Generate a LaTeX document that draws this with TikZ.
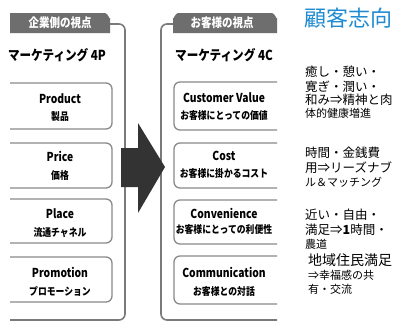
\documentclass[tikz,border=0pt]{standalone}
\usepackage{fontspec}
\setmainfont{Noto Sans CJK JP}
\newfontfamily\jp{Noto Sans CJK JP}
\newfontfamily\jpc{Noto Sans CJK JP}[FakeStretch=0.84]
\definecolor{tabgray}{HTML}{6E6E6E}
\definecolor{framegray}{HTML}{7A7A7A}
\definecolor{boxgray}{HTML}{8A8A8A}
\definecolor{arrowdark}{HTML}{333333}
\definecolor{titleblue}{HTML}{1E8BD2}
\begin{document}
\begin{tikzpicture}[x=1pt,y=-1pt,
  frame/.style={draw=framegray,line width=1.6pt,rounded corners=6pt},
  itembox/.style={draw=boxgray,line width=1.3pt,rounded corners=6pt},
  tabtext/.style={text=white,font=\jpc\bfseries\fontsize{12.5}{14}\selectfont,inner sep=0pt},
  headtext/.style={font=\jpc\bfseries\fontsize{13.8}{15}\selectfont,inner sep=0pt},
  mainlbl/.style={font=\jpc\bfseries\fontsize{12.3}{14}\selectfont,inner sep=0pt},
  sublbl/.style={font=\jpc\bfseries\fontsize{10.5}{12}\selectfont,inner sep=0pt},
  note/.style={anchor=west,inner sep=0pt,font=\jp\fontsize{12.5}{14}\selectfont},
  notesm/.style={anchor=west,inner sep=0pt,font=\jp\fontsize{11}{13}\selectfont}]
\useasboundingbox (0,0) rectangle (403,325);
\fill[white] (0,0) rectangle (403,325);

% ---------- left group (clipped at x=10) ----------
\begin{scope}
\clip (10,0) rectangle (140,325);
\fill[tabgray] (0,33) -- (0,13) -- (105,13) to[out=0,in=-90] (110,18) -- (110,33) -- cycle;
\draw[frame] (110,24) -- (125,24) -- (125,320) -- (0,320);
\draw[itembox] (0,83) rectangle (112,129);
\draw[itembox] (0,143) rectangle (112,188);
\draw[itembox] (0,199) rectangle (112,243);
\draw[itembox] (0,257) rectangle (112,302);
\end{scope}
\node[tabtext] (tabL) at (60,23) {企業側の視点};
\node[headtext] (headL) at (57,55) {マーケティング 4P};
\node[mainlbl] (p1) at (60,99) {Product};
\node[sublbl] (p2) at (60,117) {製品};
\node[mainlbl] (q1) at (60,156) {Price};
\node[sublbl] (q2) at (60,175) {価格};
\node[mainlbl] (r1) at (60,214) {Place};
\node[sublbl] (r2) at (60,233) {流通チャネル};
\node[mainlbl] (s1) at (60,272) {Promotion};
\node[sublbl] (s2) at (60,291) {プロモーション};

% ---------- right group (clipped at x=277) ----------
\begin{scope}
\clip (150,0) rectangle (277,325);
\fill[tabgray] (173,33) -- (173,18) to[out=-90,in=180] (178,13) -- (272,13) to[out=0,in=-90] (277,18) -- (277,33) -- cycle;
\draw[frame] (173,24) -- (161,24) -- (161,320) -- (290,320);
\draw[itembox] (174,82) rectangle (300,130);
\draw[itembox] (174,143) rectangle (300,188);
\draw[itembox] (174,200) rectangle (300,244);
\draw[itembox] (174,256) rectangle (300,304);
\end{scope}
\node[tabtext] (tabR) at (222,23) {お客様の視点};
\node[headtext] (headR) at (224,55) {マーケティング 4C};
\node[mainlbl] (c1) at (224,98) {Customer Value};
\node[sublbl] (c2) at (224,116) {お客様にとっての価値};
\node[mainlbl] (d1) at (224,156) {Cost};
\node[sublbl] (d2) at (224,174) {お客様に掛かるコスト};
\node[mainlbl] (e1) at (224,213) {Convenience};
\node[sublbl] (e2) at (224,229) {お客様にとっての利便性};
\node[mainlbl] (f1) at (224,272) {Communication};
\node[sublbl] (f2) at (224,291) {お客様との対話};

% ---------- big arrow ----------
\fill[arrowdark] (121,148) -- (138,148) -- (138,123) -- (165,167) -- (138,213) -- (138,187) -- (121,187) -- cycle;

% ---------- right notes ----------
\node[anchor=west,inner sep=0pt,text=titleblue,font=\jp\fontsize{22}{24}\selectfont] (title) at (304,18) {顧客志向};
\node[note] (a1) at (305,72) {癒し・憩い・};
\node[note] (a2) at (305,87) {寛ぎ・潤い・};
\node[note] (a3) at (305,100) {和み⇒精神と肉};
\node[notesm] (a4) at (305,113) {体的健康増進};
\node[note] (b1) at (305,153) {時間・金銭費};
\node[note] (b2) at (305,168) {用⇒リーズナブ};
\node[notesm] (b3) at (305,182) {ル＆マッチング};
\node[note] (g1) at (305,215) {近い・自由・};
\node[note] (g2) at (305,230) {満足⇒\textbf{1}時間・};
\node[notesm] (g3) at (305,244) {農道};
\node[anchor=west,inner sep=0pt,font=\jp\fontsize{14}{16}\selectfont] (h1) at (308,260) {地域住民満足};
\node[notesm] (h2) at (308,275) {⇒幸福感の共};
\node[notesm] (h3) at (308,289) {有・交流};
\end{tikzpicture}
\end{document}
